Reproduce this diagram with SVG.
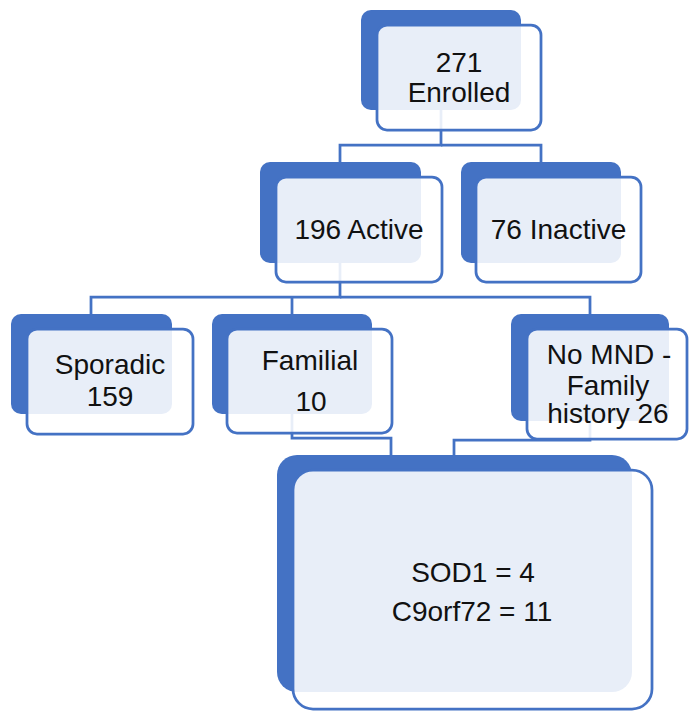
<svg xmlns="http://www.w3.org/2000/svg" width="689" height="711" viewBox="0 0 689 711">
  <style>
    .back { fill: #4472C4; }
    .front { fill: #FFFFFF; fill-opacity: 0.88; stroke: #4472C4; stroke-width: 2.75; }
    .conn { fill: none; stroke: #4472C4; stroke-width: 2.75; }
    .lbl { font-family: "Liberation Sans", Arial, sans-serif; font-size: 28px; fill: #111111; text-anchor: middle; }
  </style>
  <rect x="0" y="0" width="689" height="711" fill="#FFFFFF"/>
  <g id="connectors">
    <path class="conn" d="M441,110 V145 H340 V162"/>
    <path class="conn" d="M441,145 H541 V162"/>
    <path class="conn" d="M340,263 V297 H91 V314"/>
    <path class="conn" d="M340,297 H590 V314"/>
    <path class="conn" d="M292,297 V314"/>
    <path class="conn" d="M292,414 V438 H391 V455"/>
    <path class="conn" d="M590,421 V440 H454 V455"/>
  </g>
  <g id="node-enrolled">
    <rect class="back" x="361" y="10" width="160" height="100" rx="10"/>
    <rect class="front" x="377" y="25" width="164" height="105" rx="10"/>
    <text class="lbl" x="459" y="72">271</text>
    <text class="lbl" x="459" y="102">Enrolled</text>
  </g>
  <g id="node-active">
    <rect class="back" x="260" y="162" width="161" height="101" rx="10"/>
    <rect class="front" x="276" y="177" width="166" height="105" rx="10"/>
    <text class="lbl" x="359" y="239">196 Active</text>
  </g>
  <g id="node-inactive">
    <rect class="back" x="461" y="162" width="160" height="101" rx="10"/>
    <rect class="front" x="476" y="177" width="165" height="105" rx="10"/>
    <text class="lbl" x="558.5" y="239">76 Inactive</text>
  </g>
  <g id="node-sporadic">
    <rect class="back" x="11" y="314" width="161" height="100" rx="10"/>
    <rect class="front" x="27" y="329" width="166" height="105" rx="10"/>
    <text class="lbl" x="110" y="374">Sporadic</text>
    <text class="lbl" x="110" y="406">159</text>
  </g>
  <g id="node-familial">
    <rect class="back" x="212" y="314" width="160" height="100" rx="10"/>
    <rect class="front" x="227" y="329" width="165" height="104" rx="10"/>
    <text class="lbl" x="310" y="370">Familial</text>
    <text class="lbl" x="311" y="411">10</text>
  </g>
  <g id="node-nomnd">
    <rect class="back" x="511" y="314" width="158" height="107" rx="10"/>
    <rect class="front" x="527" y="329" width="160" height="110" rx="10"/>
    <text class="lbl" x="609" y="364">No MND -</text>
    <text class="lbl" x="608" y="395">Family</text>
    <text class="lbl" x="608" y="423">history 26</text>
  </g>
  <g id="node-genes">
    <rect class="back" x="277" y="455" width="355" height="237" rx="20"/>
    <rect class="front" x="293" y="470" width="359" height="239" rx="20"/>
    <text class="lbl" x="473" y="582">SOD1 = 4</text>
    <text class="lbl" x="472" y="621">C9orf72 = 11</text>
  </g>
</svg>
